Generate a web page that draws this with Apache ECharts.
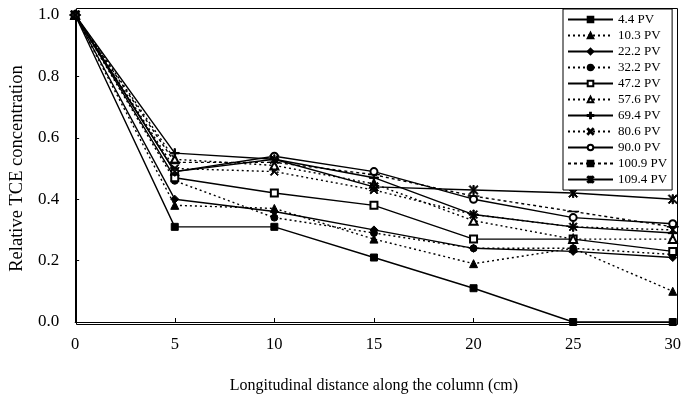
<!DOCTYPE html>
<html>
<head>
<meta charset="utf-8">
<script src="https://cdn.jsdelivr.net/npm/echarts@6/dist/echarts.min.js"></script>
<style>
html,body{margin:0;padding:0;background:#fff;}
#c{width:684px;height:399px;}
</style>
</head>
<body>
<div id="c"></div>
<script>
// distances (cm)
var distances = [0, 5, 10, 15, 20, 25, 30];
var seriesNames = ['4.4 PV','10.3 PV','22.2 PV','32.2 PV','47.2 PV','57.6 PV','69.4 PV','80.6 PV','90.0 PV','100.9 PV','109.4 PV'];
var pv4_4   = [1.0, 0.31, 0.31, 0.21, 0.11, 0.00, 0.00];
var pv10_3  = [1.0, 0.38, 0.37, 0.27, 0.19, 0.24, 0.10];
var pv22_2  = [1.0, 0.40, 0.36, 0.30, 0.24, 0.23, 0.21];
var pv32_2  = [1.0, 0.46, 0.34, 0.29, 0.24, 0.24, 0.22];
var pv47_2  = [1.0, 0.47, 0.42, 0.38, 0.27, 0.27, 0.23];
var pv57_6  = [1.0, 0.53, 0.51, 0.45, 0.33, 0.27, 0.27];
var pv69_4  = [1.0, 0.55, 0.53, 0.47, 0.35, 0.31, 0.29];
var pv80_6  = [1.0, 0.50, 0.49, 0.43, 0.35, 0.31, 0.30];
var pv90_0  = [1.0, 0.49, 0.54, 0.49, 0.40, 0.34, 0.32];
var pv100_9 = [1.0, 0.52, 0.52, 0.48, 0.41, 0.36, 0.31];
var pv109_4 = [1.0, 0.49, 0.53, 0.44, 0.43, 0.42, 0.40];
var yTicks = [0.0, 0.2, 0.4, 0.6, 0.8, 1.0];
var xTicks = [0, 5, 10, 15, 20, 25, 30];

var allValues = [pv4_4,pv10_3,pv22_2,pv32_2,pv47_2,pv57_6,pv69_4,pv80_6,pv90_0,pv100_9,pv109_4];

var PLUS = 'path://M4.25,0L5.75,0L5.75,4.25L10,4.25L10,5.75L5.75,5.75L5.75,10L4.25,10L4.25,5.75L0,5.75L0,4.25L4.25,4.25Z';
var CROSS = 'path://M1,0L5,4L9,0L10,1L6,5L10,9L9,10L5,6L1,10L0,9L4,5L0,1Z';
var STAR = 'path://M1,0L5,4L9,0L10,1L6,5L10,9L9,10L5,6L1,10L0,9L4,5L0,1Z M4.3,0L5.7,0L5.7,3L4.3,3Z M4.3,7L5.7,7L5.7,10L4.3,10Z';
var DASH = 'path://M0,0L10,0L10,3L0,3Z';

var styles = [
  {sym:'rect', size:7, type:'solid'},
  {sym:'triangle', size:8, type:[2,3]},
  {sym:'diamond', size:8, type:'solid'},
  {sym:'circle', size:7, type:[2,3]},
  {sym:'emptyRect', size:7, type:'solid'},
  {sym:'emptyTriangle', size:8, type:[2,3]},
  {sym:PLUS, size:9, type:'solid'},
  {sym:CROSS, size:8, type:[2,3]},
  {sym:'emptyCircle', size:7, type:'solid'},
  {sym:DASH, size:[10,3], type:[3,3]},
  {sym:STAR, size:9, type:'solid'}
];

var series = seriesNames.map(function(name, i){
  return {
    name: name,
    type: 'line',
    data: distances.map(function(d, j){ return [d, allValues[i][j]]; }),
    symbol: styles[i].sym,
    symbolSize: styles[i].size,
    symbolKeepAspect: true,
    showAllSymbol: true,
    lineStyle: {color:'#000', width:1.4, type: styles[i].type},
    itemStyle: {color:'#000', borderColor:'#000', borderWidth:1},
    emphasis: {disabled:true},
    animation: false
  };
});

var chart = echarts.init(document.getElementById('c'), null, {renderer:'canvas'});
var font = '"Liberation Serif", "Times New Roman", serif';
chart.setOption({
  animation: false,
  backgroundColor: '#fff',
  grid: {left:75, right:9, top:15, bottom:77},
  graphic: [{
    type:'rect', left:74, top:6, shape:{width:601, height:316},
    style:{fill:'none', stroke:'#000', lineWidth:1}, silent:true, z:1
  }],
  legend: {
    data: seriesNames,
    orient: 'vertical',
    left: 563, top: 9,
    itemWidth: 45, itemHeight: 7, itemGap: 3,
    padding: [4,5,4,4],
    backgroundColor: '#fff',
    borderColor: '#000', borderWidth: 1,
    textStyle: {fontFamily: font, fontSize: 13, lineHeight: 13, color:'#000'},
    selectedMode: false
  },
  xAxis: {
    type: 'value', min: 0, max: 30, interval: 5,
    name: 'Longitudinal distance along the column (cm)',
    nameLocation: 'middle', nameGap: 56,
    nameTextStyle: {fontFamily: font, fontSize: 16, color:'#000'},
    axisLine: {lineStyle:{color:'#000', width:1}},
    axisTick: {inside:true, length:4, lineStyle:{color:'#000'}},
    axisLabel: {fontFamily: font, fontSize: 16.5, color:'#000', margin:14,
      formatter: function(v){ return xTicks.indexOf(v) >= 0 ? String(v) : ''; }},
    splitLine: {show:false}
  },
  yAxis: {
    type: 'value', min: 0, max: 1, interval: 0.2,
    name: 'Relative TCE concentration',
    nameLocation: 'middle', nameGap: 48,
    nameTextStyle: {fontFamily: font, fontSize: 18.5, color:'#000'},
    axisLine: {lineStyle:{color:'#000', width:1}},
    axisTick: {inside:true, length:4, lineStyle:{color:'#000'}},
    axisLabel: {fontFamily: font, fontSize: 17, color:'#000', margin:16,
      formatter: function(v){
        for (var k=0;k<yTicks.length;k++){ if (Math.abs(yTicks[k]-v)<1e-6) return yTicks[k].toFixed(1); }
        return '';
      }},
    splitLine: {show:false}
  },
  series: series
});
</script>
</body>
</html>
